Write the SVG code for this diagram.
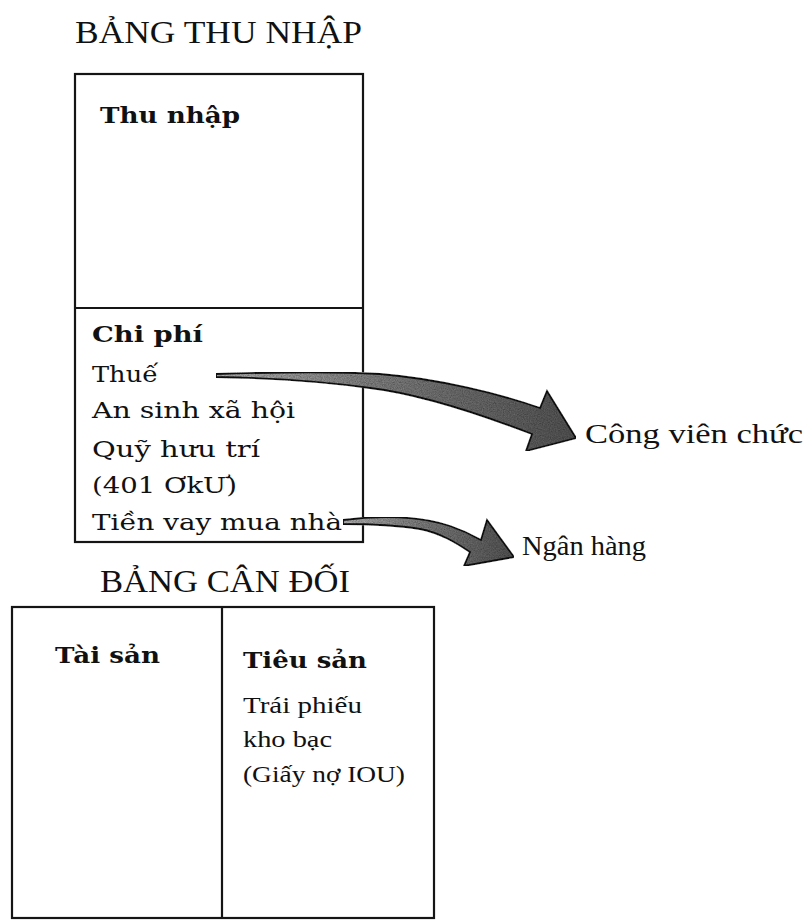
<svg xmlns="http://www.w3.org/2000/svg" width="809" height="920" viewBox="0 0 809 920">
<style>
.title{font-family:"Liberation Serif",serif;font-size:31px;fill:#111}
.hd{font-family:"DejaVu Serif",serif;font-weight:bold;font-size:23px;fill:#111}
.tx{font-family:"DejaVu Serif",serif;font-size:23px;fill:#111}
.sm{font-family:"Liberation Serif",serif;font-size:23px;fill:#111}
.lbl{font-family:"Liberation Serif",serif;font-size:28px;fill:#111}
.box{fill:none;stroke:#151515;stroke-width:2.2}
.arrow{stroke:#151515;stroke-width:1.8;stroke-linejoin:miter}
</style>
<defs>
<linearGradient id="ag" x1="0" y1="0" x2="1" y2="0">
<stop offset="0" stop-color="#c4c4c4"/>
<stop offset="0.45" stop-color="#8e8e8e"/>
<stop offset="1" stop-color="#5e5e5e"/>
</linearGradient>
<filter id="grain" x="0" y="0" width="1" height="1">
<feTurbulence type="fractalNoise" baseFrequency="0.85" numOctaves="2" seed="4" result="noise"/>
<feColorMatrix in="noise" type="matrix" values="0.5 0.5 0 0 0.1  0.5 0.5 0 0 0.1  0.5 0.5 0 0 0.1  0 0 0 0 1" result="g"/>
<feComposite in="g" in2="SourceGraphic" operator="in" result="t"/>
<feBlend in="SourceGraphic" in2="t" mode="multiply"/>
</filter>
</defs>
<rect width="809" height="920" fill="#fff"/>
<g id="income-statement">
<text class="title" x="75" y="43" textLength="287" lengthAdjust="spacingAndGlyphs">BẢNG THU NHẬP</text>
<rect class="box" x="75" y="74" width="288" height="468"/>
<line class="box" x1="75" y1="308" x2="363" y2="308"/>
<text class="hd" x="100" y="123" textLength="140" lengthAdjust="spacingAndGlyphs">Thu nhập</text>
<text class="hd" x="92" y="342" textLength="111" lengthAdjust="spacingAndGlyphs">Chi phí</text>
<text class="tx" x="92" y="382" textLength="66" lengthAdjust="spacingAndGlyphs">Thuế</text>
<text class="tx" x="92" y="418" textLength="203" lengthAdjust="spacingAndGlyphs">An sinh xã hội</text>
<text class="tx" x="92" y="457" textLength="168" lengthAdjust="spacingAndGlyphs">Quỹ hưu trí</text>
<text class="tx" x="92" y="493" textLength="145" lengthAdjust="spacingAndGlyphs">(401 ƠkƯ)</text>
<text class="tx" x="92" y="530" textLength="250" lengthAdjust="spacingAndGlyphs">Tiền vay mua nhà</text>
</g>
<g id="balance-sheet">
<text class="title" x="100" y="592" textLength="250" lengthAdjust="spacingAndGlyphs">BẢNG CÂN ĐỐI</text>
<rect class="box" x="12" y="607" width="422" height="311"/>
<line class="box" x1="222" y1="607" x2="222" y2="918"/>
<text class="hd" x="55" y="663" textLength="105" lengthAdjust="spacingAndGlyphs">Tài sản</text>
<text class="hd" x="243" y="668" textLength="124" lengthAdjust="spacingAndGlyphs">Tiêu sản</text>
<text class="sm" x="243" y="713" textLength="119" lengthAdjust="spacingAndGlyphs">Trái phiếu</text>
<text class="sm" x="243" y="747" textLength="89" lengthAdjust="spacingAndGlyphs">kho bạc</text>
<text class="sm" x="243" y="782" textLength="162" lengthAdjust="spacingAndGlyphs">(Giấy nợ IOU)</text>
</g>
<g id="cong-vien-chuc">
<text class="lbl" x="585" y="443" textLength="218" lengthAdjust="spacingAndGlyphs">Công viên chức</text>
</g>
<g id="ngan-hang">
<text class="lbl" x="522" y="555" textLength="124" lengthAdjust="spacingAndGlyphs">Ngân hàng</text>
</g>
<g id="connectors">
<path class="arrow" fill="url(#ag)" filter="url(#grain)" d="M216,374 C280,372 330,371 380,374 C440,379 500,394 540,408 L547,391 L576,438 L526,451 L532,434 C480,414 420,394 370,388 C320,381 270,378 216,377 Z"/>
<path class="arrow" fill="url(#ag)" filter="url(#grain)" d="M343,520 C380,515 420,516 450,526 C465,531 474,536 481,540 L487,520 L514,557 L464,566 L470,552 C455,542 440,533 420,529 C395,525 370,524 343,524 Z"/>
</g>
</svg>
